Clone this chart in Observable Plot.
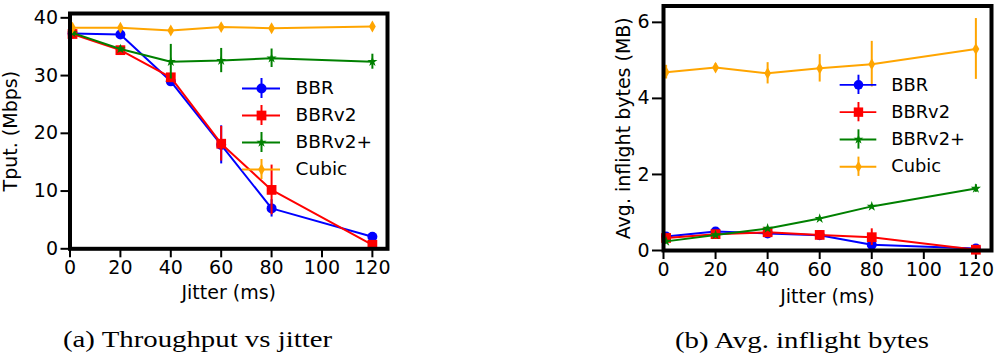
<!DOCTYPE html>
<html><head><meta charset="utf-8">
<script src="https://cdn.jsdelivr.net/npm/d3@7"></script>
<script src="https://cdn.jsdelivr.net/npm/@observablehq/plot@0.6"></script>
<style>
body{margin:0;background:#fff;width:994px;height:357px;overflow:hidden;position:relative;font-family:"DejaVu Sans"}
.abs{position:absolute}
.cap{position:absolute;font-family:"Liberation Serif";font-size:24px;line-height:1;transform-origin:0 0;transform:scaleX(1.2);white-space:nowrap;color:#000}
</style></head><body>
<div id="pa" class="abs" style="left:0;top:0"></div>
<div id="pb" class="abs" style="left:590px;top:0"></div>
<div id="la" class="abs" style="left:232px;top:70px"></div>
<div id="lb" class="abs" style="left:830px;top:67px"></div>
<div class="cap" style="left:63px;top:327px">(a) Throughput vs jitter</div>
<div class="cap" style="left:675px;top:328px">(b) Avg. inflight bytes</div>
<script>
// ---- data ----
const jitter = [1, 20, 40, 60, 80, 120];
const seriesNames = ["BBR", "BBRv2", "BBRv2+", "Cubic"];
const xTicks = [0, 20, 40, 60, 80, 100, 120];
const tputTicks = [0, 10, 20, 30, 40];
const inflightTicks = [0, 2, 4, 6];

// Throughput (Mbps)
const tputBBR = [37.3, 37.1, 29.0, 18.0, 7.0, 2.1];
const tputBBRErr = [0.3, 0.3, 0.5, 3.3, 1.5, 0.3];
const tputBBRv2 = [37.2, 34.4, 29.7, 18.2, 10.2, 0.7];
const tputBBRv2Err = [0.3, 0.4, 0.6, 3.0, 4.3, 0.2];
const tputBBRv2p = [37.4, 34.6, 32.4, 32.6, 33.0, 32.4];
const tputBBRv2pErr = [0.3, 0.5, 3.0, 2.1, 1.6, 1.3];
const tputCubic = [38.3, 38.3, 37.8, 38.4, 38.2, 38.5];
const tputCubicErr = [0.4, 0.3, 0.5, 0.4, 0.4, 0.4];

// Avg. inflight bytes (MB)
const inflBBR = [0.37, 0.50, 0.45, 0.40, 0.15, 0.05];
const inflBBRErr = [0.03, 0.04, 0.05, 0.05, 0.05, 0.02];
const inflBBRv2 = [0.33, 0.43, 0.48, 0.41, 0.35, 0.02];
const inflBBRv2Err = [0.03, 0.05, 0.06, 0.06, 0.22, 0.02];
const inflBBRv2p = [0.24, 0.41, 0.58, 0.84, 1.16, 1.63];
const inflBBRv2pErr = [0.03, 0.04, 0.04, 0.04, 0.05, 0.10];
const inflCubic = [4.69, 4.81, 4.66, 4.79, 4.90, 5.30];
const inflCubicErr = [0.18, 0.10, 0.28, 0.36, 0.60, 0.80];

// ---- styles ----
const styleOf = {
  "BBR": {color: "#0000ff", symbol: "circle", r: 5},
  "BBRv2": {color: "#ff0000", symbol: "square", r: 5.5},
  "BBRv2+": {color: "#008000", symbol: "star", r: 3.2},
  "Cubic": {color: "#ffa500", symbol: "diamond", r: 3.6}
};

function rows(valsList, errList) {
  const out = [];
  seriesNames.forEach((s, k) => {
    jitter.forEach((x, i) => out.push({series: s, x, y: valsList[k][i], e: errList[k][i]}));
  });
  return out;
}
const tputRows = rows([tputBBR, tputBBRv2, tputBBRv2p, tputCubic], [tputBBRErr, tputBBRv2Err, tputBBRv2pErr, tputCubicErr]);
const inflRows = rows([inflBBR, inflBBRv2, inflBBRv2p, inflCubic], [inflBBRErr, inflBBRv2Err, inflBBRv2pErr, inflCubicErr]);

function seriesMarks(data) {
  const m = [];
  for (const s of seriesNames) {
    const st = styleOf[s];
    const d = data.filter(r => r.series === s);
    m.push(Plot.ruleX(d, {x: "x", y1: r => r.y - r.e, y2: r => r.y + r.e, stroke: st.color, strokeWidth: 2}));
    m.push(Plot.line(d, {x: "x", y: "y", stroke: st.color, strokeWidth: 2}));
    m.push(Plot.dot(d, {x: "x", y: "y", symbol: st.symbol, r: st.r, fill: st.color}));
  }
  return m;
}

function panel(data, o) {
  return Plot.plot({
    width: o.width, height: 300,
    marginLeft: o.ml, marginRight: o.mr, marginTop: o.mt, marginBottom: 300 - o.bottom,
    x: {domain: [0, 126]},
    y: {domain: [0, o.ymax]},
    style: {fontFamily: "DejaVu Sans", fontSize: "19px", color: "#000", background: "transparent", overflow: "visible"},
    marks: [
      Plot.axisX({ticks: xTicks, tickFormat: d => String(d), tickSize: 9, tickPadding: 3, strokeWidth: 2, label: "Jitter (ms)", labelAnchor: "center", labelArrow: "none", labelOffset: o.xLabelOffset}),
      Plot.axisY({ticks: o.yTicks, tickFormat: d => String(d), tickSize: o.yTickSize, tickPadding: 3, strokeWidth: 2, label: o.ylabel, labelAnchor: "center", labelArrow: "none", labelOffset: o.labelOffset}),
      ...seriesMarks(data),
      Plot.frame({stroke: "#000", strokeWidth: 4})
    ]
  });
}

function legend(rowH) {
  const idx = seriesNames.map((s, i) => ({s, i}));
  const marks = [];
  for (const {s, i} of idx) {
    const st = styleOf[s];
    const one = [{s, i}];
    marks.push(Plot.ruleY(one, {y: "i", x1: 0, x2: 1, stroke: st.color, strokeWidth: 2}));
    marks.push(Plot.ruleX(one, {x: 0.5, y1: d => d.i - 10 / rowH, y2: d => d.i + 10 / rowH, stroke: st.color, strokeWidth: 2}));
    marks.push(Plot.dot(one, {x: 0.5, y: "i", symbol: st.symbol, r: st.r, fill: st.color}));
  }
  marks.push(Plot.text(idx, {x: 1, y: "i", text: "s", textAnchor: "start", dx: 15, fill: "#000", fontSize: 18.5}));
  return Plot.plot({
    width: 170, height: 125, margin: 0,
    x: {domain: [0, 1], range: [10, 48], axis: null},
    y: {domain: [0, 3], range: [18, 18 + 3 * rowH], axis: null},
    style: {fontFamily: "DejaVu Sans", background: "transparent", overflow: "visible"},
    marks
  });
}

document.getElementById("pa").append(panel(tputRows, {width: 400, ml: 69.5, mr: 13, mt: 13, bottom: 248.3, ymax: 40.75, yTicks: tputTicks, ylabel: "Tput. (Mbps)", labelOffset: 67, xLabelOffset: 50, yTickSize: 9}));
document.getElementById("pb").append(panel(inflRows, {width: 404, ml: 73, mr: 3, mt: 5.5, bottom: 250, ymax: 6.43, yTicks: inflightTicks, ylabel: "Avg. inflight bytes (MB)", labelOffset: 47, xLabelOffset: 52, yTickSize: 11}));
document.getElementById("la").append(legend(27));
document.getElementById("lb").append(legend(28.3));
</script>
</body></html>
